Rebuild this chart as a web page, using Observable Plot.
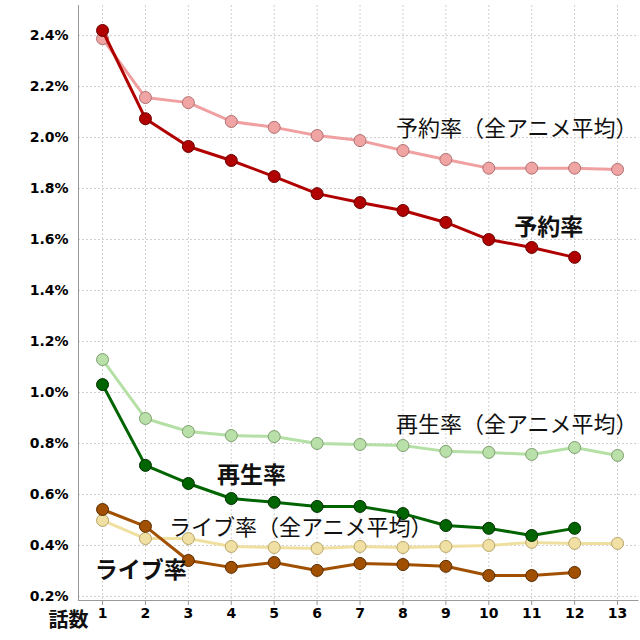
<!DOCTYPE html>
<html><head><meta charset="utf-8">
<script src="https://cdn.jsdelivr.net/npm/d3@7"></script>
<script src="https://cdn.jsdelivr.net/npm/@observablehq/plot@0.6"></script>
<style>body{margin:0;background:#fff}</style>
</head><body><div id="chart"></div>
<script>
// Data (percent values per episode)
const episodes = [1,2,3,4,5,6,7,8,9,10,11,12,13];
const reserveRate     = [2.42,2.074,1.965,1.91,1.847,1.78,1.745,1.714,1.667,1.60,1.569,1.53];
const reserveRateAvg  = [2.388,2.157,2.137,2.063,2.04,2.008,1.988,1.949,1.914,1.88,1.88,1.88,1.875];
const playRate        = [1.031,0.714,0.643,0.584,0.569,0.553,0.553,0.525,0.478,0.467,0.439,0.467];
const playRateAvg     = [1.129,0.898,0.847,0.831,0.827,0.80,0.796,0.792,0.769,0.765,0.757,0.784,0.753];
const liveRate        = [0.541,0.475,0.341,0.314,0.333,0.302,0.329,0.325,0.318,0.282,0.282,0.294];
const liveRateAvg     = [0.498,0.427,0.427,0.396,0.392,0.388,0.396,0.392,0.396,0.40,0.412,0.408,0.408];
const yTicks = [0.2,0.4,0.6,0.8,1.0,1.2,1.4,1.6,1.8,2.0,2.2,2.4];
const xLabel = "話数";

// Annotation labels (anchored in data units)
const labels = [
  {text: "予約率（全アニメ平均）", x: 10.65, y: 2.035, bold: false},
  {text: "予約率", x: 11.4, y: 1.647, bold: true},
  {text: "再生率（全アニメ平均）", x: 10.65, y: 0.871, bold: false},
  {text: "再生率", x: 4.47, y: 0.675, bold: true},
  {text: "ライブ率（全アニメ平均）", x: 5.62, y: 0.467, bold: false},
  {text: "ライブ率", x: 1.89, y: 0.302, bold: true}
];

const toRows = (vals) => vals.map((v, i) => ({ep: episodes[i], v}));

const series = [
  {rows: toRows(reserveRateAvg), line: "#f0a0a0", fill: "#f0a4a4", stroke: "#b07070", w: 3, r: 6},
  {rows: toRows(playRateAvg),    line: "#b5e0a5", fill: "#b8e0a8", stroke: "#7f9f70", w: 3, r: 6},
  {rows: toRows(liveRateAvg),    line: "#f0e0a0", fill: "#f0e0a4", stroke: "#b8a468", w: 3, r: 6},
  {rows: toRows(reserveRate),    line: "#b00000", fill: "#b00000", stroke: "#6a0000", w: 3, r: 6},
  {rows: toRows(playRate),       line: "#006400", fill: "#006400", stroke: "#003000", w: 3, r: 6},
  {rows: toRows(liveRate),       line: "#a05000", fill: "#a05000", stroke: "#5a2c00", w: 3, r: 6}
];

const xMin = 0.44, xMax = 13.5, yMin = 0.184, yMax = 2.518;

const marks = [
  Plot.gridX(episodes, {stroke: "#d0d0d0", strokeOpacity: 1, strokeDasharray: "2,2"}),
  Plot.gridY(yTicks, {stroke: "#d0d0d0", strokeOpacity: 1, strokeDasharray: "2,2"}),
  Plot.ruleX([xMin], {stroke: "#999"}),
  Plot.ruleY([yMin], {stroke: "#999"}),
  Plot.axisX(episodes, {tickSize: 5, tickPadding: 3, stroke: "#999", fontSize: 14, fontWeight: "bold", fontFamily: "DejaVu Sans", tickFormat: d => String(d), label: null}),
  Plot.axisY(yTicks, {tickSize: 0, tickPadding: 10, fontSize: 14, fontWeight: "bold", fontFamily: "DejaVu Sans", tickFormat: d => d.toFixed(1) + "%", label: null})
];
for (const s of series) {
  marks.push(Plot.line(s.rows, {x: "ep", y: "v", stroke: s.line, strokeWidth: s.w}));
  marks.push(Plot.dot(s.rows, {x: "ep", y: "v", r: s.r, fill: s.fill, stroke: s.stroke, strokeWidth: 1}));
}
marks.push(Plot.text(labels.filter(d => !d.bold), {x: "x", y: "y", text: "text", fontSize: 22, fontFamily: "Noto Sans CJK JP", fill: "#111"}));
marks.push(Plot.text(labels.filter(d => d.bold), {x: "x", y: "y", text: "text", fontSize: 23, fontWeight: "bold", fontFamily: "Noto Sans CJK JP", fill: "#111"}));
marks.push(Plot.text([xLabel], {frameAnchor: "bottom-left", textAnchor: "middle", lineAnchor: "middle", dx: -10, dy: 20, text: d => d, fontSize: 20, fontWeight: "bold", fontFamily: "Noto Sans CJK JP", fill: "#111"}));

const chart = Plot.plot({
  width: 640, height: 640,
  marginLeft: 78, marginRight: 1.5, marginTop: 5, marginBottom: 40,
  x: {type: "linear", domain: [xMin, xMax]},
  y: {type: "linear", domain: [yMin, yMax]},
  style: {fontFamily: "DejaVu Sans", background: "#fff", overflow: "visible"},
  marks
});
document.getElementById("chart").appendChild(chart);
</script>
</body></html>
